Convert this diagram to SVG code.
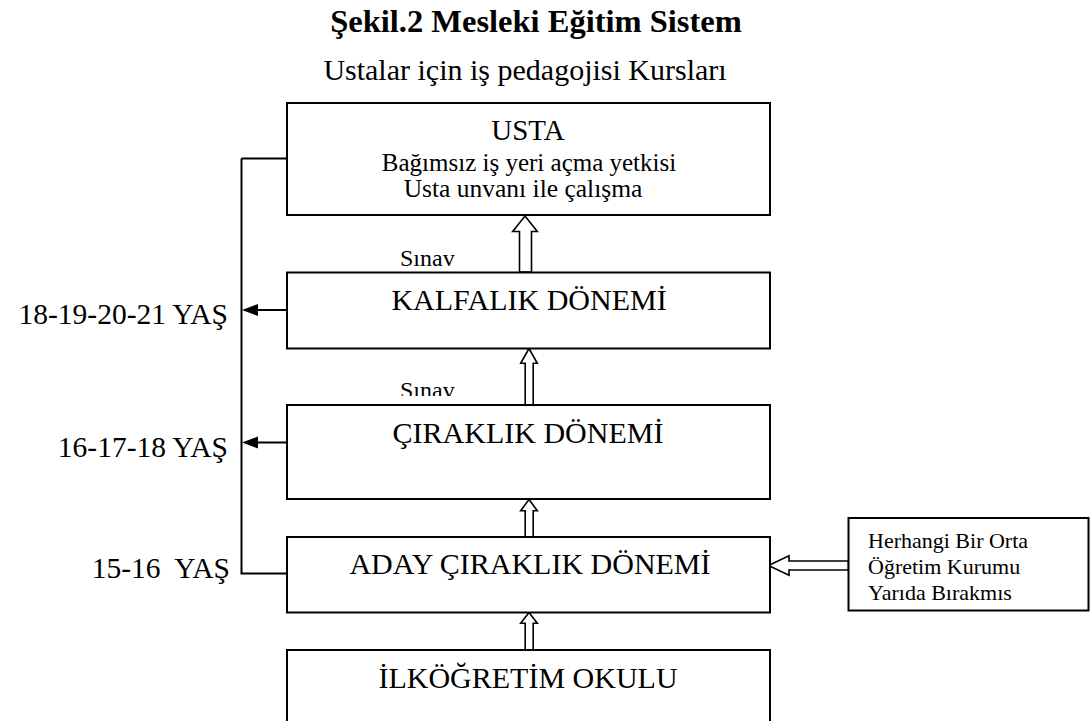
<svg xmlns="http://www.w3.org/2000/svg" width="1090" height="721" viewBox="0 0 1090 721">
<style>
text{font-family:"Liberation Serif","Times New Roman",serif;fill:#000}
.box{fill:#fff;stroke:#000;stroke-width:2}
.big{font-size:30px;text-anchor:middle}
.ln{fill:none;stroke:#000;stroke-width:2}
.hol{fill:#fff;stroke:#000;stroke-width:1.6;stroke-linejoin:miter}
.age{font-size:29.5px;text-anchor:end;white-space:pre}
</style>
<defs>
<marker id="ah" viewBox="0 0 16 12" refX="0" refY="6" markerWidth="16" markerHeight="12" markerUnits="userSpaceOnUse" orient="auto-start-reverse">
<path d="M0,6 L16,0 L16,12 Z" fill="#000"/>
</marker>
<clipPath id="clipS"><rect x="380" y="370" width="100" height="26"/></clipPath>
</defs>
<rect width="1090" height="721" fill="#fff"/>
<g id="title">
<text x="536" y="32" style="font-size:32.5px;font-weight:bold;text-anchor:middle">Şekil.2 Mesleki Eğitim Sistem</text>
<text x="525" y="80" style="font-size:30px;text-anchor:middle">Ustalar için iş pedagojisi Kursları</text>
</g>
<g id="connectors">
<path class="ln" d="M241.5,158.5 V573.5 H287"/>
<path class="ln" d="M241.5,158.5 H287"/>
<path class="ln" d="M287,310 H258" />
<path d="M242,310 L258,304 L258,316 Z" fill="#000"/>
<path class="ln" d="M287,442.5 H258"/>
<path d="M242,442.5 L258,436.5 L258,448.5 Z" fill="#000"/>
<path class="hol" d="M525,216 L537.3,231.5 L531.5,231.5 L531.5,272 L519.5,272 L519.5,231.5 L512.7,231.5 Z"/>
<path class="hol" d="M529,348.5 L537.3,363.3 L533.2,363.3 L533.2,405 L525.2,405 L525.2,363.3 L520.7,363.3 Z"/>
<path class="hol" d="M529,499.5 L537.3,510.7 L533.2,510.7 L533.2,537 L525.2,537 L525.2,510.7 L520.7,510.7 Z"/>
<path class="hol" d="M529,612.5 L537.3,623.3 L533.2,623.3 L533.2,650 L525.2,650 L525.2,623.3 L520.7,623.3 Z"/>
<path class="hol" d="M768.5,565.5 L789,555.8 L789,561 L848.5,561 L848.5,570 L789,570 L789,575.2 Z"/>
<text x="400" y="266" style="font-size:24px">Sınav</text>
<text x="400" y="398" style="font-size:24px" clip-path="url(#clipS)">Sınav</text>
</g>
<g id="ages">
<text class="age" x="228" y="324">18-19-20-21 YAŞ</text>
<text class="age" x="228" y="456.5">16-17-18 YAŞ</text>
<text class="age" x="230" y="578">15-16  YAŞ</text>
</g>
<g id="usta">
<rect class="box" x="287" y="103" width="483" height="112"/>
<text class="big" x="528" y="139.5" style="font-size:29px">USTA</text>
<text x="529" y="171" style="font-size:25px;text-anchor:middle">Bağımsız iş yeri açma yetkisi</text>
<text x="523" y="197" style="font-size:25.5px;text-anchor:middle">Usta unvanı ile çalışma</text>
</g>
<g id="kalfalik">
<rect class="box" x="287" y="272.5" width="483" height="76"/>
<text class="big" x="529" y="310">KALFALIK DÖNEMİ</text>
</g>
<g id="ciraklik">
<rect class="box" x="287" y="405" width="483" height="94"/>
<text class="big" x="528" y="442.5">ÇIRAKLIK DÖNEMİ</text>
</g>
<g id="aday">
<rect class="box" x="287" y="537" width="483" height="75.5"/>
<text class="big" x="530" y="574">ADAY ÇIRAKLIK DÖNEMİ</text>
</g>
<g id="ilkogretim">
<path class="box" d="M287,725 V650 H770 V725"/>
<text class="big" x="528" y="688">İLKÖĞRETİM OKULU</text>
</g>
<g id="ortaogretim">
<rect class="box" x="848.5" y="518" width="240" height="92.5"/>
<text x="868" y="548" style="font-size:22px">Herhangi Bir Orta</text>
<text x="868" y="574" style="font-size:22px">Öğretim Kurumu</text>
<text x="868" y="600" style="font-size:22px">Yarıda Bırakmıs</text>
</g>
</svg>
